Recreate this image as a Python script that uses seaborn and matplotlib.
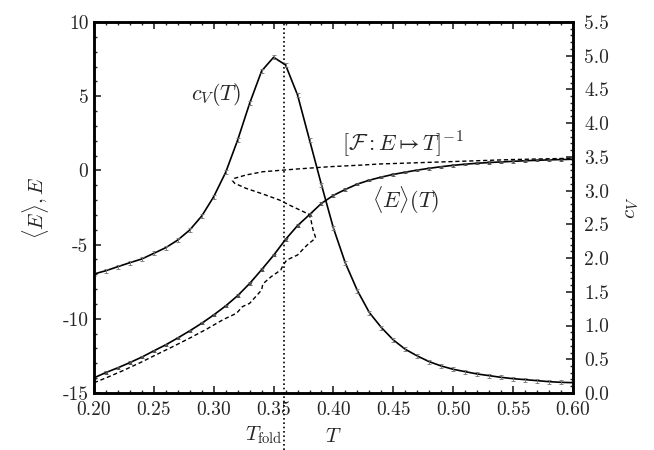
import matplotlib
matplotlib.use("Agg")
import matplotlib.pyplot as plt
from matplotlib.ticker import MultipleLocator, FormatStrFormatter
import numpy as np
import pandas as pd
import seaborn as sns

sns.set_style("ticks")
plt.rcParams["font.family"] = "serif"
plt.rcParams["font.serif"] = ["cmr10"]
plt.rcParams["mathtext.fontset"] = "cm"
plt.rcParams["axes.unicode_minus"] = False
plt.rcParams["axes.formatter.use_mathtext"] = True

# temperature grid of the canonical simulations
T = [0.20, 0.21, 0.22, 0.23, 0.24, 0.25, 0.26, 0.27, 0.28, 0.29,
     0.30, 0.31, 0.32, 0.33, 0.34, 0.35, 0.36, 0.37, 0.38, 0.39,
     0.40, 0.41, 0.42, 0.43, 0.44, 0.45, 0.46, 0.47, 0.48, 0.49,
     0.50, 0.51, 0.52, 0.53, 0.54, 0.55, 0.56, 0.57, 0.58, 0.59, 0.60]

# specific heat c_V(T), right axis
cV = [1.764, 1.813, 1.873, 1.932, 1.987, 2.071, 2.155, 2.268, 2.417, 2.624,
      2.910, 3.272, 3.751, 4.295, 4.774, 4.977, 4.863, 4.418, 3.751, 3.084,
      2.442, 1.923, 1.517, 1.191, 0.970, 0.786, 0.648, 0.549, 0.464, 0.400,
      0.351, 0.316, 0.282, 0.257, 0.232, 0.212, 0.198, 0.183, 0.168, 0.158, 0.153]

# mean energy <E>(T), left axis
Emean = [-13.98, -13.62, -13.30, -12.95, -12.58, -12.16, -11.75, -11.29, -10.81, -10.30,
         -9.74, -9.13, -8.44, -7.62, -6.69, -5.72, -4.65, -3.72, -2.98, -2.22,
         -1.68, -1.28, -0.92, -0.66, -0.45, -0.27, -0.12, 0.02, 0.14, 0.25,
         0.34, 0.42, 0.48, 0.53, 0.57, 0.61, 0.65, 0.68, 0.71, 0.73, 0.75]

# inverse microcanonical temperature curve, T(E)
dashE = [-14.31, -13.95, -13.50, -12.98, -12.42, -11.87, -11.30, -10.70, -10.05, -9.63,
         -9.18, -8.96, -8.06, -7.65, -7.16, -6.71, -6.37, -6.04, -5.70, -5.36,
         -5.03, -4.70, -4.50, -4.02, -3.68, -3.23, -2.94, -2.67, -2.33, -2.00,
         -1.59, -1.21, -0.87, -0.69, -0.53, -0.31, -0.09, 0.09, 0.25, 0.36,
         0.43, 0.58, 0.73, 0.82]
dashT = [0.200, 0.211, 0.224, 0.238, 0.252, 0.266, 0.280, 0.294, 0.308, 0.319,
         0.324, 0.330, 0.340, 0.341, 0.348, 0.356, 0.358, 0.361, 0.370, 0.374,
         0.378, 0.383, 0.385, 0.383, 0.382, 0.381, 0.379, 0.372, 0.363, 0.355,
         0.341, 0.327, 0.3175, 0.3156, 0.3175, 0.327, 0.341, 0.369, 0.397, 0.424,
         0.438, 0.494, 0.549, 0.600]

T_fold = 0.359

df = pd.DataFrame({"T": T, "cV": cV, "E": Emean})
dfd = pd.DataFrame({"T": dashT, "E": dashE})

fig = plt.figure(figsize=(6.54, 4.5), dpi=100)
ax = fig.add_axes([0.1437, 0.1267, 0.7324, 0.8244])
ax2 = ax.twinx()

# <E>(T) with tiny error bars
sns.lineplot(data=df, x="T", y="E", ax=ax, color="black", lw=1.2)
ax.errorbar(df["T"], df["E"], yerr=0.08, fmt=".", ms=2.2, color="0.3",
            elinewidth=0.6, capsize=1.2, capthick=0.6)
# T(E) parametric curve
sns.lineplot(data=dfd, x="T", y="E", ax=ax, sort=False, estimator=None,
             color="black", lw=1.0, dashes=False, linestyle=(0, (3, 2)))

# c_V(T)
sns.lineplot(data=df, x="T", y="cV", ax=ax2, color="black", lw=1.2)
ax2.errorbar(df["T"], df["cV"], yerr=0.03, fmt="none", color="0.45",
             elinewidth=0.6, capsize=1.6, capthick=0.6)

ax.axvline(T_fold, ymin=-0.155, ymax=1, color="black", ls=(0, (1, 1.6)),
           lw=1.2, clip_on=False)

ax.set_xlim(0.20, 0.60)
ax.set_ylim(-15, 10)
ax2.set_ylim(0, 5.5)

ax.xaxis.set_major_locator(MultipleLocator(0.05))
ax.xaxis.set_minor_locator(MultipleLocator(0.01))
ax.xaxis.set_major_formatter(FormatStrFormatter("%.2f"))
ax.yaxis.set_major_locator(MultipleLocator(5))
ax.yaxis.set_minor_locator(MultipleLocator(1))
ax.yaxis.set_major_formatter(FormatStrFormatter("%d"))
ax2.yaxis.set_major_locator(MultipleLocator(0.5))
ax2.yaxis.set_minor_locator(MultipleLocator(0.1))
ax2.yaxis.set_major_formatter(FormatStrFormatter("%.1f"))

ax.tick_params(axis="x", which="both", direction="in", top=True, labelsize=14, pad=6)
ax.tick_params(axis="y", which="both", direction="in", right=False, labelsize=14, pad=4)
ax.tick_params(which="major", length=5, width=1.2)
ax.tick_params(which="minor", length=2.5, width=1.0)
ax2.tick_params(axis="y", which="both", direction="in", labelsize=14, pad=8)
ax2.tick_params(which="major", length=5, width=1.2)
ax2.tick_params(which="minor", length=2.5, width=1.0)

for a in (ax, ax2):
    for s in a.spines.values():
        s.set_linewidth(1.8)
        s.set_color("black")

ax.set_xlabel("$T$", fontsize=15, labelpad=6)
ax.set_ylabel(r"$\langle E\rangle, E$", fontsize=15, labelpad=8)
ax2.set_ylabel("$c_V$", fontsize=15, labelpad=10)

ax.text(T_fold - 0.001, -0.115, r"$T_{\rm fold}$", transform=ax.get_xaxis_transform(),
        ha="right", va="center", fontsize=15)
ax.text(0.302, 5.1, "$c_V(T)$", fontsize=16, ha="center", va="center")
ax.text(0.458, 1.75, r"$[\mathcal{F}:E\mapsto T]^{-1}$", fontsize=16, ha="center", va="center")
ax.text(0.46, -2.0, r"$\langle E\rangle(T)$", fontsize=16, ha="center", va="center")

fig.savefig("out.png", dpi=100)
